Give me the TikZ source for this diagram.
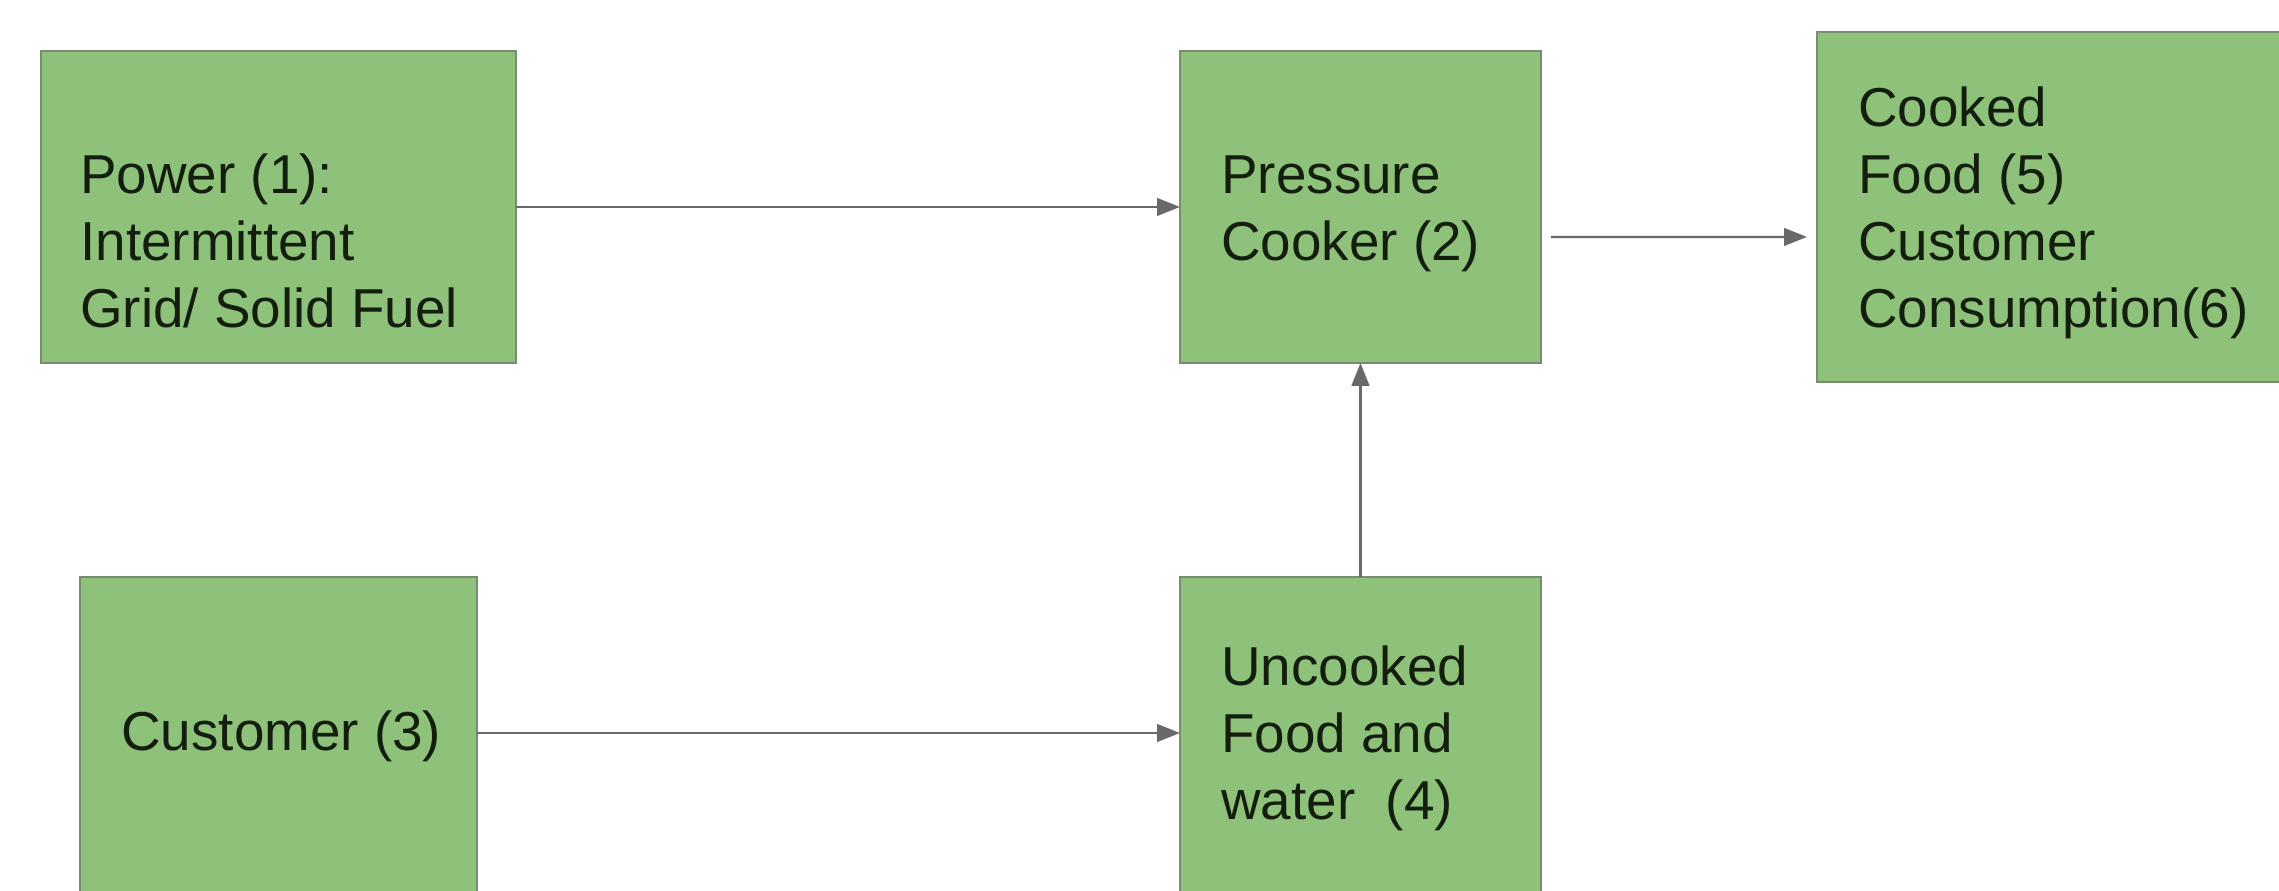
\documentclass[tikz,border=0pt]{standalone}
\usepackage{fontspec}
\setmainfont{Liberation Sans}
\usetikzlibrary{arrows.meta}
\definecolor{boxfill}{RGB}{142,193,121}
\definecolor{boxline}{RGB}{122,140,112}
\definecolor{arrgray}{RGB}{105,105,105}
\definecolor{txt}{RGB}{20,30,15}
\begin{document}
\begin{tikzpicture}[x=0.02cm,y=-0.02cm,
  box/.style={draw=boxline,fill=boxfill,line width=1.5pt,inner sep=0pt,outer sep=0pt,anchor=north west},
  lbl/.style={anchor=base west,align=left,inner sep=0pt,text=txt,font=\fontsize{31.2}{38.1}\selectfont},
  arr/.style={draw=arrgray,line width=1.3pt,-{Triangle[length=13pt,width=10pt]}}]
\useasboundingbox (0,0) rectangle (2279,890);
\clip (0,0) rectangle (2279,890);
\fill[white] (0,0) rectangle (2279,890);
\node[box,minimum width=9.5cm,minimum height=6.24cm] (power) at (41,51) {};
\node[box,minimum width=7.22cm,minimum height=6.24cm] (pc) at (1180,51) {};
\node[box,minimum width=9.6cm,minimum height=7.0cm] (cooked) at (1817,32) {};
\node[box,minimum width=7.94cm,minimum height=6.7cm] (cust) at (80,577) {};
\node[box,minimum width=7.22cm,minimum height=6.7cm] (unc) at (1180,577) {};
\node[lbl] (tpower) at (80,327) {Power (1):\\Intermittent\\Grid/ Solid Fuel};
\node[lbl] (tpc) at (1221,260) {Pressure\\Cooker (2)};
\node[lbl] (tcooked) at (1858,327) {Cooked\\Food (5)\\Customer\\Consumption(6)};
\node[lbl] (tcust) at (121,750) {Customer (3)};
\node[lbl] (tunc) at (1221,819) {Uncooked\\Food and\\water\ \ (4)};
\draw[arr] (power.east) -- (pc.west);
\draw[arr,shorten <=10*0.02cm,shorten >=10*0.02cm] ([yshift=-0.6cm]pc.east) -- ([yshift=-0.6cm]cooked.west);
\draw[arr] (unc.north -| pc.south) -- (pc.south);
\draw[arr] (cust.east |- 0,733) -- (unc.west |- 0,733);
\end{tikzpicture}
\end{document}
